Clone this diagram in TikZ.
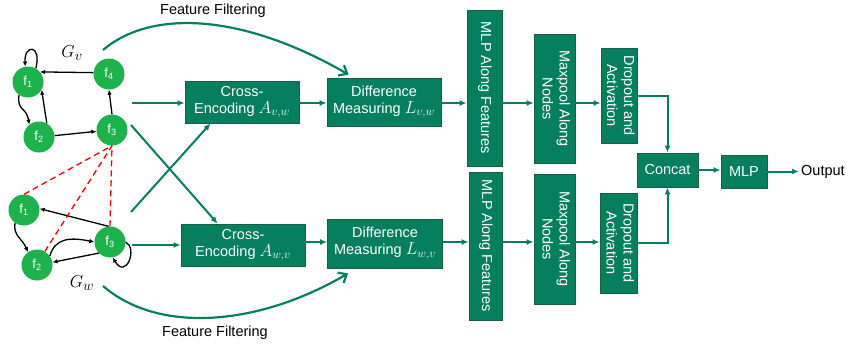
\documentclass[tikz,border=0pt]{standalone}
\usepackage{fontspec}
\setmainfont{Liberation Sans}
\usetikzlibrary{arrows.meta}
\definecolor{boxgreen}{RGB}{6,128,92}
\definecolor{boxedge}{RGB}{22,96,70}
\definecolor{nodegreen}{RGB}{30,178,76}
\tikzset{fnode/.style={circle,fill=nodegreen,text=white,minimum size=31pt,inner sep=0pt,font=\fontsize{13}{13}\selectfont}}
\tikzset{box/.style={draw=boxedge,line width=0.8pt,fill=boxgreen,text=white,align=center,inner sep=0pt,font=\fontsize{14.5}{17}\selectfont}}
\tikzset{flow/.style={draw=boxgreen,line width=2pt,-{Latex[length=7pt,width=6pt]}}}
\tikzset{edge/.style={black,line width=1.3pt,-{Latex[length=5pt,width=4.5pt]}}}
\tikzset{link/.style={red,line width=1.3pt,dash pattern=on 6pt off 4pt}}
\tikzset{filter/.style={draw=boxgreen,line width=2.2pt,-{Straight Barb[length=7pt,width=12pt]}}}
\newcommand{\vtext}[1]{\rotatebox{-90}{\begin{tabular}{@{}c@{}}#1\end{tabular}}}
\newcommand{\boxmath}[1]{{\fontsize{16.5}{17}\selectfont$#1$}}

\begin{document}
\begin{tikzpicture}
                [x=1pt,y=-1pt,font=\fontsize{14.5}{16}\selectfont]
                \useasboundingbox (0,0) rectangle (849,343);
                % graph G_v
                \node [fnode] (v1) at (28,82)  {f\textsubscript{1}};
                \node [fnode] (v2) at (39,137) {f\textsubscript{2}};
                \node [fnode] (v3) at (112,130){f\textsubscript{3}};
                \node [fnode] (v4) at (109,74) {f\textsubscript{4}};
                \node (gvl) at (72,53) {\fontsize{19}{19}\selectfont$G_v$};
                
                % graph G_w
                \node [fnode] (w1) at (24,210) {f\textsubscript{1}};
                \node [fnode] (w2) at (37,265) {f\textsubscript{2}};
                \node [fnode] (w3) at (110,242){f\textsubscript{3}};
                \node (gwl) at (82,283) {\fontsize{19}{19}\selectfont$G_w$};
                
                \draw [edge] (v4.175) -- (v1.40);
                \draw [edge] (v1.60) .. controls (42,44) and (24,44) .. (v1.100);
                \draw [edge] (v1.235) .. controls (17,112) and (26,106) .. (v2.128);
                \draw [edge] (v2.60) -- (v1.-30);
                \draw [edge] (v2.5) -- (v3.185);
                \draw [edge] (v3.north) -- (v4.south);
                
                \draw [edge] (w3.95) -- (w1.5);
                \draw [edge] (w1.235) .. controls (13,236) and (22,238) .. (w2.125);
                \draw [edge] (w2.35) .. controls (55,238) and (70,237) .. (w3.180);
                \draw [edge] (w3.225) -- (w2.10);
                \draw [edge] (w3.east) .. controls (138,248) and (126,280) .. (w3.-80);
                
                \foreach \from in {w1.north,w2.60,w3.north}
                \draw [link] (\from) -- (v3.south);
                
                % pipeline
                \node [box,minimum width=114pt,minimum height=42pt] (encv) at (242,102) {Cross-\\Encoding \boxmath{A_{v,w}}};
                \node [box,minimum width=114pt,minimum height=48pt] (diffv) at (384,102) {Difference\\Measuring \boxmath{L_{v,w}}};
                \node [box,minimum width=124pt,minimum height=42pt] (encw) at (243,245) {Cross-\\Encoding \boxmath{A_{w,v}}};
                \node [box,minimum width=115pt,minimum height=49pt] (diffw) at (385,243.5) {Difference\\Measuring \boxmath{L_{w,v}}};
                
                \node [box,minimum width=35pt,minimum height=156pt] (mlpv) at (484.5,88) {\vtext{MLP Along Features}};
                \node [box,minimum width=33pt,minimum height=148pt] (mlpw) at (485.5,246) {\vtext{MLP Along Features}};
                \node [box,minimum width=41pt,minimum height=129pt] (poolv) at (554.5,98.5) {\vtext{Maxpool Along\\Nodes}};
                \node [box,minimum width=41pt,minimum height=130pt] (poolw) at (554.5,239) {\vtext{Maxpool Along\\Nodes}};
                \node [box,minimum width=36pt,minimum height=95pt] (dropv) at (619,95.5) {\vtext{Dropout and\\Activation}};
                \node [box,minimum width=37pt,minimum height=100pt] (dropw) at (618.5,243) {\vtext{Dropout and\\Activation}};
                \node [box,minimum width=61pt,minimum height=34pt] (concat) at (667.5,170) {Concat};
                \node [box,minimum width=46pt,minimum height=33pt] (mlp) at (744,171.5) {MLP};
                \node [anchor=west,inner sep=2pt] (out) at (799,171.5) {Output};
                
                \coordinate (vout) at (132,103);
                \coordinate (wout) at (132,245);
                \coordinate (vx) at (131,125);
                \coordinate (wx) at (131,212);
                \coordinate (rowv) at (0,103);
                \coordinate (roww) at (0,242);
                
                \draw [flow] (vout) -- (vout -| encv.west);
                \draw [flow] (wout) -- (wout -| encw.west);
                \draw [flow] (vx) -- ([xshift=37pt]encw.north west);
                \draw [flow] (wx) -- ([xshift=26pt]encv.south west);
                
                \foreach \a/\b in {encv/diffv,diffv/mlpv,mlpv/poolv,poolv/dropv}
                \draw [flow] (rowv -| \a.east) -- (rowv -| \b.west);
                
                \foreach \a/\b in {encw/diffw,diffw/mlpw,mlpw/poolw,poolw/dropw}
                \draw [flow] (roww -| \a.east) -- (roww -| \b.west);
                
                \draw [flow] (dropv.east) -| (concat.north);
                \draw [flow] (dropw.east) -| (concat.south);
                \draw [flow] (concat.east) -- (concat.east -| mlp.west);
                \draw [flow] (mlp.east) -- (out.west);
                
                % feature filtering
                \coordinate (gv) at (103,50);
                \coordinate (gw) at (103,286);
                \node (ftv) at (213,11) {Feature Filtering};
                \node (ftw) at (215,333) {Feature Filtering};
                \draw [filter] (gv) .. controls (150,10) and (240,12) .. ([xshift=22pt,yshift=3pt]diffv.north west);
                \draw [filter] (gw) .. controls (160,335) and (260,325) .. ([xshift=21pt,yshift=-5pt]diffw.south west);
            \end{tikzpicture}
\end{document}
